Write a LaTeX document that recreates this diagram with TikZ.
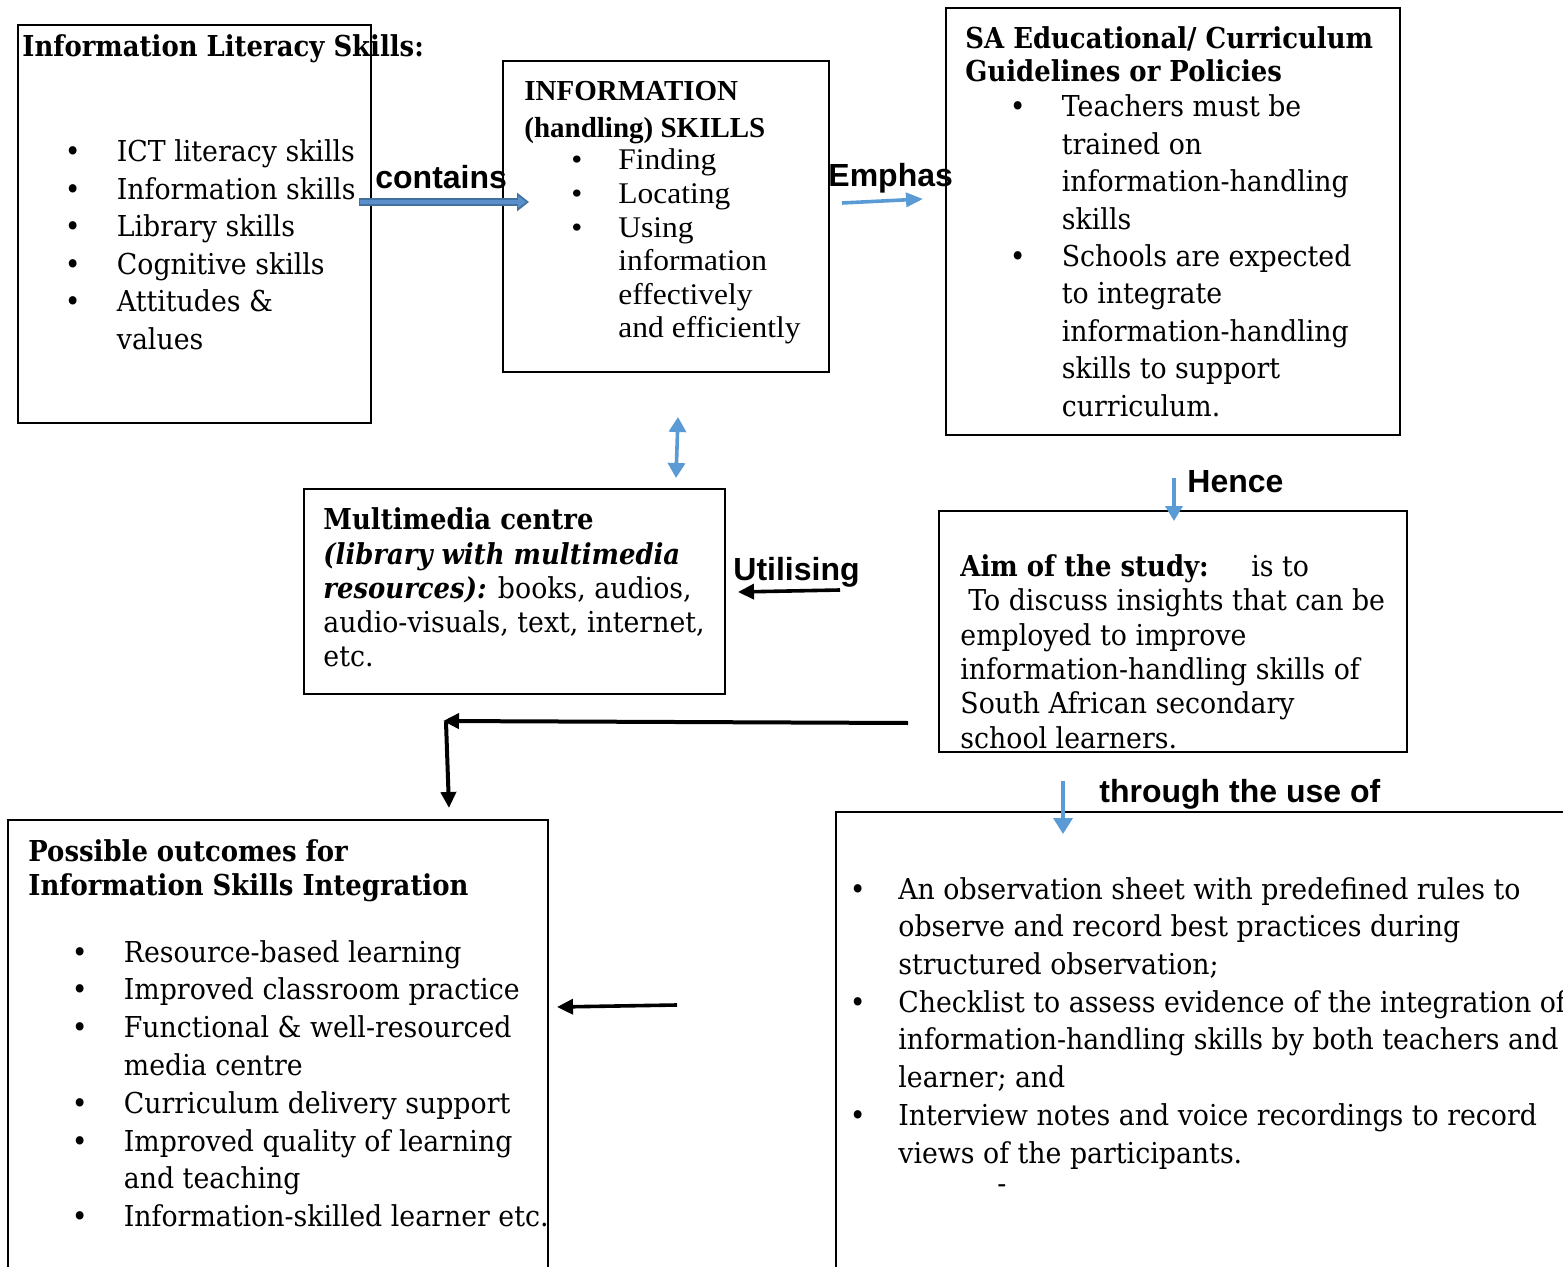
\documentclass[tikz,border=0pt]{standalone}
\usepackage{fontspec}
\setmainfont{DejaVu Serif}[UprightFeatures={FakeStretch=0.93}, ItalicFeatures={FakeStretch=0.93}, BoldFeatures={FakeStretch=0.9}, BoldItalicFeatures={FakeStretch=0.9}]
\newfontfamily\timesfont{Liberation Serif}[UprightFeatures={FakeStretch=1.05}]
\newfontfamily\arialfont{Liberation Sans}
\usetikzlibrary{arrows.meta}
\definecolor{arrowblue}{HTML}{5B9BD5}
\definecolor{edgeblue}{HTML}{41719C}
\definecolor{fillblue}{HTML}{5B8FCB}
\newcommand{\bul}[1][26pt]{\makebox[#1][l]{\textbullet}}
\newcommand{\bulpad}[1][26pt]{\hspace*{#1}}
\tikzset{
  box/.style={draw=black, line width=0.8pt, anchor=north west, inner sep=0pt, outer sep=0pt},
  txt/.style={anchor=base west, inner sep=0pt, align=left},
  lbl/.style={anchor=base west, inner sep=0pt, font=\arialfont\bfseries\fontsize{16}{18}\selectfont},
  bluearrow/.style={draw=arrowblue, line width=1.8pt, -{Triangle[length=7.5pt,width=8.5pt]}},
  blackarrow/.style={draw=black, line width=1.8pt, -{Triangle[length=8pt,width=7.5pt]}}
}

\begin{document}
\begin{tikzpicture}[x=0.5pt, y=-0.5pt]
	%%%%% START %%%%%
	\useasboundingbox (0,0) rectangle (1563,1267);
	\clip (0,0) rectangle (1563,1267);
	
	\node[box, minimum width=176.5pt, minimum height=199pt] (lit) at (18,25) {};
	\node[box, minimum width=163pt, minimum height=155.5pt] (info) at (503,61) {};
	\node[box, minimum width=227pt, minimum height=213.5pt] (sa) at (946,8) {};
	\node[box, minimum width=210.5pt, minimum height=102.5pt] (mm) at (304,489) {};
	\node[box, minimum width=234pt, minimum height=120.5pt] (aim) at (939,511) {};
	\node[box, minimum width=270pt, minimum height=250pt] (out) at (8,820) {};
	\node[box, minimum width=382pt, minimum height=250pt] (obs) at (836,812) {};
	
	% the text nodes sit on the baseline of their last line
	\node[txt, font=\bfseries\fontsize{14.4}{18.75}\selectfont] (litTitle) at ([shift={(4,32)}]lit.north west) {Information Literacy Skills:};
	\node[txt, font=\fontsize{14.4}{18.75}\selectfont] (litList) at ([shift={(46.5,324.5)}]lit.north west)
		{\bul ICT literacy skills\\ \bul Information skills\\ \bul Library skills\\ \bul Cognitive skills\\ \bul Attitudes \&\\ \bulpad values};
	
	\node[txt, font=\timesfont\bfseries\fontsize{14.5}{18.3}\selectfont] (infoTitle) at ([shift={(21,76.3)}]info.north west) {INFORMATION\\(handling) SKILLS};
	\node[txt, font=\timesfont\fontsize{15}{16.8}\selectfont] (infoList) at ([shift={(68,277)}]info.north west)
		{\bul[23.5pt]Finding\\ \bul[23.5pt]Locating\\ \bul[23.5pt]Using\\ \bulpad[23.5pt]information\\ \bulpad[23.5pt]effectively\\ \bulpad[23.5pt]and efficiently};
	
	\node[txt, font=\bfseries\fontsize{14.4}{16.7}\selectfont] (saTitle) at ([shift={(19,74)}]sa.north west) {SA Educational/ Curriculum\\Guidelines or Policies};
	\node[txt, font=\fontsize{14.4}{18.7}\selectfont] (saList) at ([shift={(63.5,408.2)}]sa.north west)
		{\bul Teachers must be\\ \bulpad trained on\\ \bulpad information-handling\\ \bulpad skills\\ \bul Schools are expected\\ \bulpad to integrate\\ \bulpad information-handling\\ \bulpad skills to support\\ \bulpad curriculum.};
	
	\node[txt, font=\fontsize{14.4}{17.1}\selectfont] (mmText) at ([shift={(19,177.7)}]mm.north west)
		{\textbf{Multimedia centre}\\ \textbf{\textit{(library with multimedia}}\\ \textbf{\textit{resources):}} books, audios,\\ audio-visuals, text, internet,\\ etc.};
	
	\node[txt, font=\fontsize{14.4}{17.2}\selectfont] (aimText) at ([shift={(21,237.3)}]aim.north west)
		{\makebox[145.5pt][l]{\textbf{Aim of the study:}}is to\\ \hspace*{4pt}To discuss insights that can be\\ employed to improve\\ information-handling skills of\\ South African secondary\\ school learners.};
	
	\node[txt, font=\bfseries\fontsize{14.4}{16.7}\selectfont] (outTitle) at ([shift={(20,75)}]out.north west) {Possible outcomes for\\Information Skills Integration};
	\node[txt, font=\fontsize{14.4}{18.9}\selectfont] (outList) at ([shift={(63.5,406.7)}]out.north west)
		{\bul Resource-based learning\\ \bul Improved classroom practice\\ \bul Functional \& well-resourced\\ \bulpad media centre\\ \bul Curriculum delivery support\\ \bul Improved quality of learning\\ \bulpad and teaching\\ \bul Information-skilled learner etc.};
	
	\node[txt, font=\fontsize{14.4}{18.85}\selectfont] (obsList) at ([shift={(13.5,351)}]obs.north west)
		{\bul[24.25pt]An observation sheet with predefined rules to\\ \bulpad[24.25pt]observe and record best practices during\\ \bulpad[24.25pt]structured observation;\\ \bul[24.25pt]Checklist to assess evidence of the integration of\\ \bulpad[24.25pt]information-handling skills by both teachers and\\ \bulpad[24.25pt]learner; and\\ \bul[24.25pt]Interview notes and voice recordings to record\\ \bulpad[24.25pt]views of the participants.};
	\node[txt, font=\fontsize{14.4}{18}\selectfont] (obsDash) at ([shift={(161,381)}]obs.north west) {-};
	
	\node[lbl] (contains) at ([shift={(4,164)}]lit.north east) {contains};
	\node[lbl] (emphas) at ([shift={(-1,126)}]info.north east) {Emphas};
	\node[lbl] (hence) at ([shift={(14,-19)}]aim.north) {Hence};
	\node[lbl] (utilising) at ([shift={(8,91)}]mm.north east) {Utilising};
	\node[lbl] (through) at ([shift={(263,-10)}]obs.north west) {through the use of};
	
	\draw[line width=4pt, draw=edgeblue, -{Triangle[length=6pt,width=9pt]}] ([shift={(-12,177)}]lit.north east) -- ([shift={(26,141)}]info.north west);
	\draw[line width=2pt, draw=fillblue, -{Triangle[length=4.2pt,width=5.6pt]}] ([shift={(-11,177)}]lit.north east) -- ([shift={(23.5,141)}]info.north west);
	\draw[bluearrow, -{Triangle[length=8.5pt,width=7pt]}] ([shift={(13,142)}]info.north east) -- ([shift={(-23,191)}]sa.north west);
	\draw[bluearrow, {Triangle[length=7.5pt,width=8.5pt]}-{Triangle[length=7.5pt,width=8.5pt]}] ([shift={(175,45)}]info.south west) -- ([shift={(-49,-11)}]mm.north east);
	\draw[bluearrow] ([shift={(1,43)}]sa.south) -- ([shift={(1,10)}]aim.north);
	\draw[blackarrow] ([shift={(-99,79)}]aim.north west) -- ([shift={(13,103)}]mm.north east);
	\draw[blackarrow, line width=2pt] ([shift={(-31,212)}]aim.north west) -- ([shift={(139,27)}]mm.south west);
	\draw[blackarrow, line width=2pt] ([shift={(142,28)}]mm.south west) -- ([shift={(441,-12)}]out.north west);
	\draw[blackarrow] ([shift={(-159,193)}]obs.north west) -- ([shift={(9,187)}]out.north east);
	\draw[bluearrow, -{Triangle[length=8pt,width=9.5pt]}] ([shift={(-110,29)}]aim.south) -- ([shift={(227,22)}]obs.north west);
	
	%%%%% END %%%%%
\end{tikzpicture}
\end{document}
